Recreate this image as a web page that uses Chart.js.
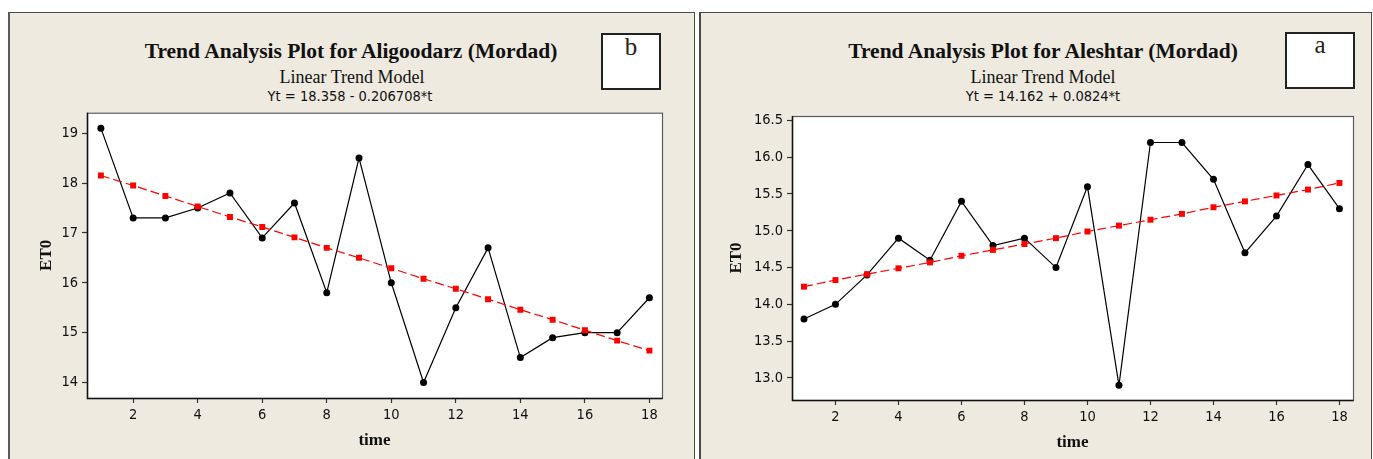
<!DOCTYPE html>
<html>
<head>
<meta charset="utf-8">
<script src="https://cdn.jsdelivr.net/npm/chart.js@4/dist/chart.umd.min.js"></script>
<style>
  html, body { margin: 0; padding: 0; background: #ffffff; }
  body { width: 1373px; height: 459px; position: relative; overflow: hidden; }
  .frame { position: absolute; background: #EEEAE0; box-sizing: border-box; }
  #frameB { left: 8px; top: 12px; width: 687px; height: 460px; border: 1px solid #4a4a4a; border-left: 2px solid #5a5a5a; }
  #frameA { left: 699px; top: 12px; width: 673px; height: 460px; border: 1px solid #4a4a4a; border-left: 2px solid #4a4a4a; }
  .txt { position: absolute; white-space: nowrap; color: #111; transform: translateX(-50%); }
  .title { font-family: "Liberation Serif", "Times New Roman", serif; font-weight: bold; font-size: 21.5px; line-height: 21.5px; }
  .sub { font-family: "Liberation Serif", "Times New Roman", serif; font-size: 18px; line-height: 18px; }
  .eq { font-family: "DejaVu Sans Condensed", "DejaVu Sans", sans-serif; font-size: 14.5px; line-height: 14.5px; }
  .box { position: absolute; background: #ffffff; border: 2.5px solid #222; box-sizing: border-box; text-align: center;
         font-family: "Liberation Serif", "Times New Roman", serif; font-size: 25px; line-height: 24px; color: #222; }
  canvas { position: absolute; }
</style>
</head>
<body>
<div class="frame" id="frameB"></div>
<div class="frame" id="frameA"></div>

<div class="txt title" style="left:351px; top:41px;">Trend Analysis Plot for Aligoodarz (Mordad)</div>
<div class="txt sub" style="left:352px; top:68px;">Linear Trend Model</div>
<div class="txt eq" style="left:350px; top:89px;">Yt = 18.358 - 0.206708*t</div>
<div class="box" style="left:601px; top:33px; width:60px; height:57px;">b</div>

<div class="txt title" style="left:1043px; top:41px;">Trend Analysis Plot for Aleshtar (Mordad)</div>
<div class="txt sub" style="left:1043px; top:68px;">Linear Trend Model</div>
<div class="txt eq" style="left:1043px; top:89px;">Yt = 14.162 + 0.0824*t</div>
<div class="box" style="left:1285px; top:32px; width:70px; height:57px; line-height:22px;">a</div>

<canvas id="chartB" width="685" height="359" style="left:9px; top:100px;"></canvas>
<canvas id="chartA" width="673" height="359" style="left:700px; top:100px;"></canvas>

<script>
// ---- data ----
const timeT = [1,2,3,4,5,6,7,8,9,10,11,12,13,14,15,16,17,18];

// Aligoodarz (b)
const etAligoodarz    = [19.1,17.3,17.3,17.5,17.8,16.9,17.6,15.8,18.5,16.0,14.0,15.5,16.7,14.5,14.9,15.0,15.0,15.7];
const trendAligoodarz = [18.15,17.95,17.74,17.53,17.32,17.12,16.91,16.70,16.50,16.29,16.08,15.88,15.67,15.46,15.26,15.05,14.84,14.64];

// Aleshtar (a)
const etAleshtar      = [13.8,14.0,14.4,14.9,14.6,15.4,14.8,14.9,14.5,15.6,12.9,16.2,16.2,15.7,14.7,15.2,15.9,15.3];
const trendAleshtar   = [14.24,14.33,14.41,14.49,14.57,14.66,14.74,14.82,14.90,14.99,15.07,15.15,15.23,15.32,15.40,15.48,15.56,15.65];

// tick labels
const xTickLabels  = ['2','4','6','8','10','12','14','16','18'];
const yTickLabelsB = ['14','15','16','17','18','19'];
const yTickLabelsA = ['13.0','13.5','14.0','14.5','15.0','15.5','16.0','16.5'];

const xTitle = 'time';
const yTitle = 'ET0';

// ---- helpers ----
function pts(xs, ys) { return xs.map((x, i) => ({ x: x, y: ys[i] })); }

const plotFrame = {
  id: 'plotFrame',
  beforeDraw(chart) {
    const { ctx, chartArea: a } = chart;
    ctx.save();
    ctx.fillStyle = '#ffffff';
    ctx.fillRect(a.left, a.top, a.right - a.left, a.bottom - a.top);
    ctx.restore();
  },
  afterDraw(chart) {
    const { ctx, chartArea: a } = chart;
    ctx.save();
    ctx.strokeStyle = '#5a5a5a';
    ctx.lineWidth = 1.2;
    ctx.strokeRect(a.left + 0.5, a.top + 0.5, a.right - a.left, a.bottom - a.top);
    ctx.strokeStyle = '#111';
    ctx.lineWidth = 1.5;
    ctx.beginPath();
    ctx.moveTo(a.left + 0.5, a.top);
    ctx.lineTo(a.left + 0.5, a.bottom + 0.5);
    ctx.lineTo(a.right + 0.5, a.bottom + 0.5);
    ctx.stroke();
    ctx.restore();
  }
};

function makeChart(id, actual, trend, yLabels, cfg) {
  const yVals = yLabels.map(Number);
  const xVals = xTickLabels.map(Number);
  return new Chart(document.getElementById(id), {
    type: 'line',
    data: {
      datasets: [
        {
          label: 'Actual',
          data: pts(timeT, actual),
          borderColor: '#000000',
          backgroundColor: '#000000',
          borderWidth: 1.2,
          pointStyle: 'circle',
          pointRadius: 3.5,
          pointBorderWidth: 0,
          tension: 0,
          order: 2
        },
        {
          label: 'Fits',
          data: pts(timeT, trend),
          borderColor: '#ff0000',
          backgroundColor: '#ff0000',
          borderWidth: 1.2,
          borderDash: [9, 4],
          pointStyle: 'rect',
          pointRadius: 4.2,
          pointBorderWidth: 0,
          tension: 0,
          order: 1
        }
      ]
    },
    options: {
      responsive: false,
      animation: false,
      events: [],
      layout: { padding: cfg.padding },
      plugins: { legend: { display: false }, tooltip: { enabled: false }, title: { display: false } },
      scales: {
        x: {
          type: 'linear',
          min: cfg.xMin, max: cfg.xMax,
          afterFit: s => { s.height = cfg.xH; },
          afterBuildTicks: s => { s.ticks = xVals.map(v => ({ value: v })); },
          grid: { display: true, drawOnChartArea: false, drawTicks: true, tickLength: 5, color: '#333', tickWidth: 1.2 },
          border: { display: false },
          ticks: {
            color: '#111', padding: 4,
            font: { family: '"DejaVu Sans Condensed", "DejaVu Sans", sans-serif', size: 14.5 },
            callback: (v) => xTickLabels[xVals.indexOf(v)] ?? ''
          },
          title: {
            display: true, text: xTitle, color: '#111',
            font: { family: '"Liberation Serif", "Times New Roman", serif', size: 17, weight: 'bold' },
            padding: { top: 0, bottom: cfg.xTitlePad }
          }
        },
        y: {
          type: 'linear',
          min: cfg.yMin, max: cfg.yMax,
          afterFit: s => { s.width = cfg.yW; },
          afterBuildTicks: s => { s.ticks = yVals.map(v => ({ value: v })); },
          grid: { display: true, drawOnChartArea: false, drawTicks: true, tickLength: 5, color: '#333', tickWidth: 1.2 },
          border: { display: false },
          ticks: {
            color: '#111', padding: 4,
            font: { family: '"DejaVu Sans Condensed", "DejaVu Sans", sans-serif', size: 14.5 },
            callback: (v) => yLabels[yVals.indexOf(v)] ?? ''
          },
          title: {
            display: true, text: yTitle, color: '#111',
            font: { family: '"Liberation Serif", "Times New Roman", serif', size: 17, weight: 'bold' },
            padding: { top: cfg.yTitlePad, bottom: 0 }
          }
        }
      }
    },
    plugins: [plotFrame]
  });
}

makeChart('chartB', etAligoodarz, trendAligoodarz, yTickLabelsB, {
  padding: { left: 0, right: 32, top: 12, bottom: 0 },
  xMin: 0.57, xMax: 18.39, yMin: 13.69, yMax: 19.41,
  yW: 78, xH: 61, yTitlePad: 27, xTitlePad: 8
});

makeChart('chartA', etAleshtar, trendAleshtar, yTickLabelsA, {
  padding: { left: 0, right: 20, top: 16, bottom: 0 },
  xMin: 0.62, xMax: 18.43, yMin: 12.70, yMax: 16.56,
  yW: 92, xH: 59, yTitlePad: 26, xTitlePad: 6
});
</script>
</body>
</html>
